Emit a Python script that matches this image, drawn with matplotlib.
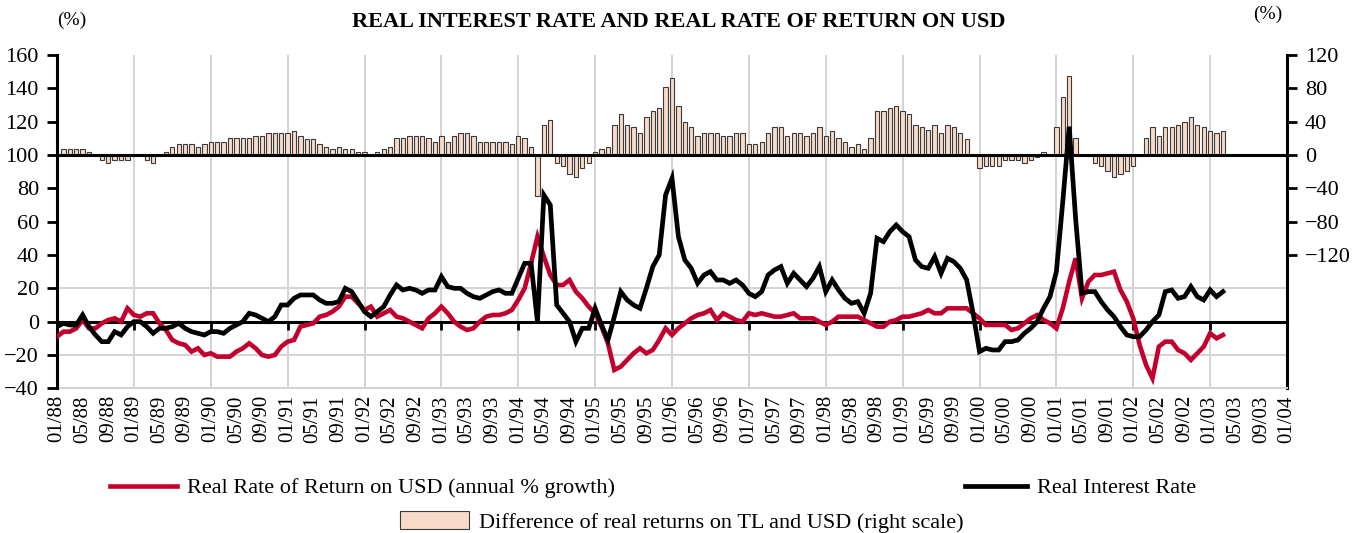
import numpy as np
import matplotlib.pyplot as plt
from matplotlib.ticker import FixedLocator

plt.rcParams['font.family'] = ['Liberation Serif', 'DejaVu Serif']

# monthly values, 01/88 - 03/03 (one row per year)
real_interest = [
    -3, -1, -2, -2, 4, -3, -8, -12, -12, -6, -8, -3,
    0, 0, -3, -7, -4, -4, -3, -1, -4, -6, -7, -8,
    -6, -6, -7, -4, -2, 0, 5, 4, 2, 0, 3, 10,
    10, 14, 16, 16, 16, 13, 11, 11, 12, 20, 18, 12,
    6, 3, 6, 9, 16, 22, 19, 20, 19, 17, 19, 19,
    27, 21, 20, 20, 17, 15, 14, 16, 18, 19, 17, 17,
    26, 35, 35, 0, 76, 70, 10, 5, 0, -12, -4, -4,
    8, -2, -11, 3, 18, 13, 10, 8, 20, 33, 40, 76,
    86, 51, 37, 32, 23, 28, 30, 25, 25, 23, 25, 22,
    17, 15, 18, 28, 31, 33, 23, 29, 25, 21, 26, 33,
    18, 25, 19, 14, 11, 12, 5, 17, 50, 48, 54, 58,
    54, 51, 37, 33, 32, 39, 29, 38, 36, 32, 25, 5,
    -18, -16, -17, -17, -12, -12, -11, -7, -4, 0, 8, 15,
    30, 72, 117, 62, 17, 18, 18, 12, 7, 3, -3, -8,
    -9, -9, -5, 0, 4, 18, 19, 14, 15, 21, 15, 13,
    19, 15, 18,
]

usd_return = [
    -9, -6, -6, -4, 1, -4, -4, -1, 1, 2, 0, 8,
    4, 3, 5, 5, -1, -5, -11, -13, -14, -18, -16, -20,
    -19, -21, -21, -21, -18, -16, -13, -16, -20, -21, -20, -15,
    -12, -11, -3, -2, -1, 3, 4, 6, 9, 15, 15, 11,
    7, 9, 3, 5, 7, 3, 2, 0, -2, -4, 2, 5,
    9, 5, 0, -3, -5, -4, 0, 3, 4, 4, 5, 7,
    13, 20, 35, 51, 39, 28, 22, 22, 25, 18, 14, 9,
    5, -3, -13, -29, -27, -23, -19, -16, -19, -17, -11, -4,
    -8, -4, -1, 2, 4, 5, 7, 1, 5, 3, 1, 0,
    5, 4, 5, 4, 3, 3, 4, 5, 2, 2, 2, 0,
    -2, 0, 3, 3, 3, 3, 1, -1, -3, -3, 0, 1,
    3, 3, 4, 5, 7, 5, 5, 8, 8, 8, 8, 5,
    2, -2, -2, -2, -2, -5, -4, -1, 2, 4, 1, -1,
    -4, 8, 24, 38, 14, 24, 28, 28, 29, 30, 19, 12,
    2, -14, -26, -34, -15, -12, -12, -17, -19, -23, -19, -15,
    -7, -10, -8,
]

# difference of real returns on TL and USD (right scale)
return_diff = [
    0, 7, 7, 7, 7, 3, 0, -6, -10, -6, -6, -6,
    0, 0, -6, -10, 0, 3, 10, 13, 13, 13, 10, 13,
    16, 16, 16, 20, 20, 20, 20, 23, 23, 26, 26, 26,
    26, 29, 23, 19, 19, 13, 10, 7, 10, 7, 7, 3,
    3, -1, 3, 7, 10, 20, 20, 23, 23, 23, 20, 16,
    23, 16, 23, 26, 26, 23, 16, 16, 16, 16, 16, 13,
    23, 20, 10, -49, 36, 42, -10, -13, -23, -26, -16, -10,
    3, 7, 10, 36, 49, 36, 33, 26, 46, 53, 56, 82,
    92, 59, 39, 33, 23, 26, 26, 26, 23, 23, 26, 26,
    13, 13, 16, 26, 33, 33, 23, 26, 26, 23, 26, 33,
    23, 29, 20, 16, 10, 13, 7, 20, 53, 53, 56, 59,
    53, 49, 36, 33, 30, 36, 26, 36, 33, 26, 19, 0,
    -16, -13, -13, -13, -6, -6, -6, -10, -6, -2, 3, 0,
    33, 69, 95, 20, 0, -1, -10, -13, -19, -26, -23, -19,
    -13, -1, 20, 33, 23, 33, 33, 36, 39, 46, 36, 33,
    29, 26, 29,
]

# x labels every 4 months, 01/88 .. 01/04
tick_pos = list(range(0, 193, 4))
tick_labels = [f"{m % 12 + 1:02d}/{(88 + m // 12) % 100:02d}" for m in tick_pos]

RED = '#C3002D'
PEACH = '#F7DAC7'
GRID = '#D3D3D3'

months = np.arange(len(real_interest))

fig = plt.figure(figsize=(13.65, 5.33), dpi=100)
ax = fig.add_axes([57 / 1365, 1 - 388.3 / 533, 1230 / 1365, 333.3 / 533])
ax2 = ax.twinx()
ax.set_zorder(2)
ax2.set_zorder(1)
ax.patch.set_visible(False)
ax2.patch.set_visible(True)
ax2.patch.set_facecolor('white')

# right scale: bars + grid underneath everything
bars = ax2.bar(months, return_diff, width=0.68, color=PEACH,
               edgecolor='#3a3a3a', linewidth=0.8, zorder=2)
ax2.axhline(0, color='black', lw=2.2, zorder=3)
ax2.set_ylim(-280, 120)
ax2.set_yticks(range(-120, 121, 40))
ax2.yaxis.set_minor_locator(FixedLocator(range(-280, 121, 40)))
ax2.grid(which='minor', axis='y', color=GRID, lw=1.4, zorder=0)
ax2.xaxis.set_visible(True)
ax2.grid(which='major', axis='x', color=GRID, lw=1.4, zorder=0)
ax2.set_axisbelow(True)
ax2.tick_params(axis='x', length=0, labelbottom=False, labeltop=False)
ax2.tick_params(axis='y', which='minor', length=0)
ax2.tick_params(axis='y', which='major', direction='out', length=7, width=2,
                labelsize=16, pad=6, colors='black')
for s in ['top', 'left']:
    ax2.spines[s].set_visible(False)
ax2.spines['bottom'].set_color(GRID)
ax2.spines['bottom'].set_linewidth(1.4)
ax2.spines['right'].set_linewidth(2.2)

# left scale: lines
red_line, = ax.plot(months, usd_return, color=RED, lw=3.3, solid_joinstyle='miter', zorder=3)
black_line, = ax.plot(months, real_interest, color='black', lw=3.4, solid_joinstyle='miter', zorder=4)
ax.set_xlim(0, 192)
ax.set_ylim(-40, 160)
ax.set_yticks(range(-40, 161, 20))
ax.set_xticks(range(0, 193, 12))
ax.tick_params(axis='x', direction='out', length=6, width=2, labelbottom=False)
ax.tick_params(axis='y', direction='out', length=7, width=2, labelsize=16, pad=6)
ax.spines['bottom'].set_position(('data', 0))
ax.spines['bottom'].set_linewidth(2.2)
ax.spines['left'].set_linewidth(2.2)
ax.spines['top'].set_visible(False)
ax.spines['right'].set_visible(False)

sec = ax.secondary_xaxis('bottom')
sec.set_xticks(tick_pos, labels=tick_labels)
sec.tick_params(length=0, pad=5, labelsize=15, rotation=90)
sec.spines['bottom'].set_visible(False)

fig.text(0.497, 0.958, 'REAL INTEREST RATE AND REAL RATE OF RETURN ON USD',
         ha='center', va='center', fontsize=16, fontweight='bold')
fig.text(72 / 1365, 1 - 20 / 533, '(%)', ha='center', va='center', fontsize=14)
fig.text(1268 / 1365, 1 - 14 / 533, '(%)', ha='center', va='center', fontsize=14)

leg_kw = dict(frameon=False, borderpad=0, borderaxespad=0, fontsize=16,
              loc='center left', handletextpad=0.45)
fig.legend([red_line], ['Real Rate of Return on USD (annual % growth)'],
           bbox_to_anchor=(110 / 1365, 1 - 488 / 533), handlelength=3.0, **leg_kw)
fig.legend([black_line], ['Real Interest Rate'],
           bbox_to_anchor=(965 / 1365, 1 - 488 / 533), handlelength=2.8, **leg_kw)
fig.legend([bars], ['Difference of real returns on TL and USD (right scale)'],
           bbox_to_anchor=(400 / 1365, 1 - 522 / 533), handlelength=3.1,
           handleheight=0.85, **leg_kw)

fig.savefig('out.png', dpi=100)
